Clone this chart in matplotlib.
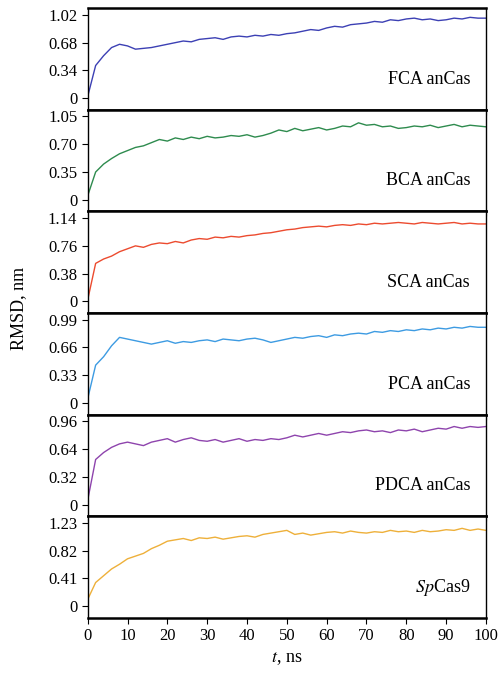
import numpy as np
import matplotlib
matplotlib.use("Agg")
import matplotlib.pyplot as plt

plt.rcParams['font.family'] = ['Liberation Serif', 'DejaVu Serif']
plt.rcParams['mathtext.fontset'] = 'stix'

labels = ["FCA anCas", "BCA anCas", "SCA anCas", "PCA anCas", "PDCA anCas", "$\\mathit{Sp}$Cas9"]
colors = ["#3c40b4", "#2e8b4e", "#ec4b2f", "#3d9be2", "#8e44ad", "#eeb03a"]
ticks = [[0, 0.34, 0.68, 1.02], [0, 0.35, 0.70, 1.05], [0, 0.38, 0.76, 1.14],
         [0, 0.33, 0.66, 0.99], [0, 0.32, 0.64, 0.96], [0, 0.41, 0.82, 1.23]]
tick_labels = [["0", "0.34", "0.68", "1.02"], ["0", "0.35", "0.70", "1.05"], ["0", "0.38", "0.76", "1.14"],
               ["0", "0.33", "0.66", "0.99"], ["0", "0.32", "0.64", "0.96"], ["0", "0.41", "0.82", "1.23"]]

fca = [0.02,0.40,0.52,0.62,0.66,0.64,0.60,0.61,0.62,0.64,0.66,0.68,0.70,0.69,0.72,0.73,0.74,0.72,0.75,0.76,
       0.75,0.77,0.76,0.78,0.77,0.79,0.80,0.82,0.84,0.83,0.86,0.88,0.87,0.90,0.91,0.92,0.94,0.93,0.96,0.95,
       0.97,0.98,0.96,0.97,0.95,0.96,0.98,0.97,0.99,0.98,0.98]
bca = [0.05,0.35,0.45,0.52,0.58,0.62,0.66,0.68,0.72,0.76,0.74,0.78,0.76,0.79,0.77,0.80,0.78,0.79,0.81,0.80,
       0.82,0.79,0.81,0.84,0.88,0.86,0.90,0.87,0.89,0.91,0.88,0.90,0.93,0.92,0.97,0.94,0.95,0.92,0.93,0.90,
       0.91,0.93,0.92,0.94,0.91,0.93,0.95,0.92,0.94,0.93,0.92]
sca = [0.02,0.52,0.58,0.62,0.68,0.72,0.76,0.74,0.78,0.80,0.79,0.82,0.80,0.84,0.86,0.85,0.88,0.87,0.89,0.88,
       0.90,0.91,0.93,0.94,0.96,0.98,0.99,1.01,1.02,1.03,1.02,1.04,1.05,1.04,1.06,1.05,1.07,1.06,1.07,1.08,
       1.07,1.06,1.08,1.07,1.06,1.07,1.08,1.06,1.07,1.06,1.06]
pca = [0.05,0.45,0.55,0.68,0.78,0.76,0.74,0.72,0.70,0.72,0.74,0.71,0.73,0.72,0.74,0.75,0.73,0.76,0.75,0.74,
       0.76,0.77,0.75,0.72,0.74,0.76,0.78,0.77,0.79,0.80,0.78,0.81,0.80,0.82,0.83,0.82,0.85,0.84,0.86,0.85,
       0.87,0.86,0.88,0.87,0.89,0.88,0.90,0.89,0.91,0.90,0.90]
pdca = [0.05,0.52,0.60,0.66,0.70,0.72,0.70,0.68,0.72,0.74,0.76,0.72,0.75,0.77,0.74,0.73,0.75,0.72,0.74,0.76,
        0.73,0.75,0.74,0.76,0.75,0.77,0.80,0.78,0.80,0.82,0.80,0.82,0.84,0.83,0.85,0.86,0.84,0.85,0.83,0.86,
        0.85,0.87,0.84,0.86,0.88,0.87,0.90,0.88,0.90,0.89,0.90]
spcas = [0.10,0.35,0.45,0.55,0.62,0.70,0.74,0.78,0.85,0.90,0.96,0.98,1.00,0.97,1.01,1.00,1.02,0.99,1.01,1.03,
         1.04,1.02,1.06,1.08,1.10,1.12,1.06,1.08,1.05,1.07,1.09,1.10,1.08,1.11,1.09,1.08,1.10,1.09,1.12,1.10,
         1.11,1.09,1.12,1.10,1.11,1.13,1.12,1.15,1.12,1.14,1.12]
series = [fca, bca, sca, pca, pdca, spcas]

fig, axes = plt.subplots(6, 1, figsize=(5.01, 6.85), dpi=100, sharex=True)
fig.subplots_adjust(left=0.175, right=0.97, top=0.988, bottom=0.098, hspace=0)

for ax, vals, c, lab, tk, tl in zip(axes, series, colors, labels, ticks, tick_labels):
    t = np.linspace(0, 100, len(vals))
    ax.plot(t, vals, color=c, lw=1.0)
    top = tk[-1]
    ax.set_ylim(-0.14 * top, 1.08 * top)
    ax.set_yticks(tk)
    ax.set_yticklabels(tl, fontsize=12)
    ax.set_xlim(0, 100)
    for s in ax.spines.values():
        s.set_linewidth(1.0)
    ax.spines['top'].set_linewidth(1.8)
    ax.spines['bottom'].set_linewidth(1.8)
    ax.text(0.96, 0.3, lab, transform=ax.transAxes, ha='right', va='center', fontsize=13)
    ax.tick_params(axis='y', length=4)

axes[-1].set_xticks(range(0, 101, 10))
axes[-1].tick_params(axis='x', labelsize=12, length=4)
axes[-1].set_xlabel("$t$, ns", fontsize=13)
fig.text(0.02, 0.55, "RMSD, nm", rotation=90, va='center', ha='left', fontsize=13)
fig.savefig("out.png", dpi=100)
